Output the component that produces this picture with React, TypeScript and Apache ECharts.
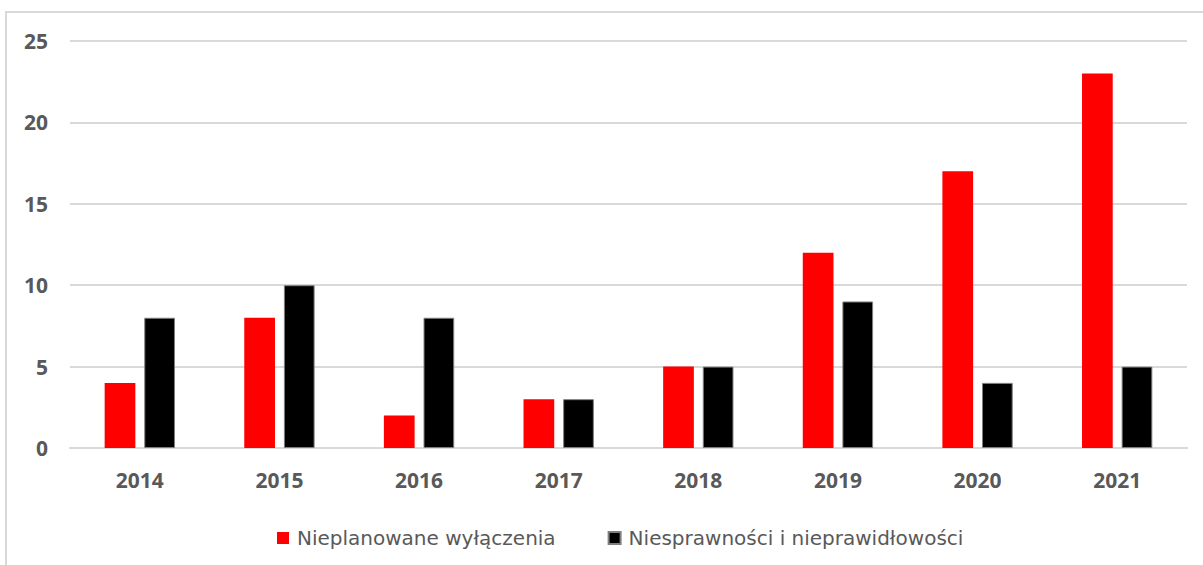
import React, { useEffect, useRef } from "react";
import * as echarts from "echarts";

const categories = ["2014", "2015", "2016", "2017", "2018", "2019", "2020", "2021"];
const unplannedOutages = [4, 8, 2, 3, 5, 12, 17, 23];
const faults = [8, 10, 8, 3, 5, 9, 4, 5];
const seriesNames = ["Nieplanowane wyłączenia", "Niesprawności i nieprawidłowości"];

const FONT = "'Open Sans', 'Noto Sans', sans-serif";
const LEGEND_FONT = "'DejaVu Sans', sans-serif";

export default function App() {
  const ref = useRef<HTMLDivElement>(null);
  useEffect(() => {
    const chart = echarts.init(ref.current!, undefined, { renderer: "svg" });
    chart.setOption({
      animation: false,
      backgroundColor: "#ffffff",
      graphic: [
        {
          type: "rect",
          shape: { x: 6, y: 12, width: 1300, height: 700 },
          style: { fill: "none", stroke: "#d9d9d9", lineWidth: 2 },
          silent: true,
        },
      ],
      grid: { left: 70, right: 16, top: 41, bottom: 117, containLabel: false },
      legend: {
        top: 523,
        left: 272,
        itemWidth: 12,
        itemHeight: 12,
        itemGap: 52,
        icon: "rect",
        textStyle: { fontFamily: LEGEND_FONT, fontSize: 20, color: "#595959", padding: [0, 0, 0, 3] },
        data: seriesNames,
      },
      xAxis: {
        type: "category",
        data: categories,
        axisLine: { lineStyle: { color: "#d9d9d9", width: 2 } },
        axisTick: { show: false },
        axisLabel: { fontFamily: FONT, fontSize: 21, fontWeight: "bold", color: "#595959", margin: 21 },
      },
      yAxis: {
        type: "value",
        min: 0,
        max: 25,
        interval: 5,
        axisLine: { show: false },
        axisTick: { show: false },
        splitLine: { lineStyle: { color: "#d9d9d9", width: 2 } },
        axisLabel: { fontFamily: FONT, fontSize: 21, fontWeight: "bold", color: "#595959", margin: 22 },
      },
      series: [
        {
          name: seriesNames[0],
          type: "bar",
          data: unplannedOutages,
          barWidth: "22%",
          barGap: "29%",
          itemStyle: { color: "#ff0000" },
        },
        {
          name: seriesNames[1],
          type: "bar",
          data: faults,
          barWidth: "22%",
          itemStyle: { color: "#000000", borderColor: "#7f7f7f", borderWidth: 1 },
        },
      ],
    });
    return () => chart.dispose();
  }, []);
  return (
    <div
      ref={ref}
      style={{ position: "fixed", left: 0, top: 0, width: 1203, height: 565 }}
    />
  );
}
